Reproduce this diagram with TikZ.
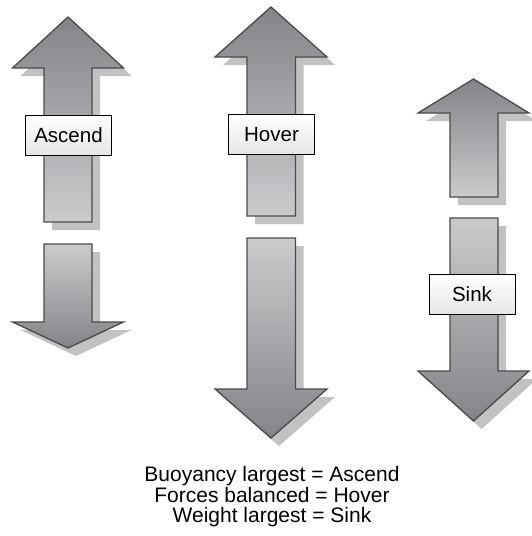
\documentclass[tikz,border=0pt]{standalone}
\usepackage{fontspec}
\setmainfont{Liberation Sans}
\usepackage{tikz}
\usetikzlibrary{positioning, shadows}
\definecolor{arrowdark}{HTML}{838487}
\definecolor{arrowlight}{HTML}{CACBCD}
\definecolor{shadowgray}{HTML}{C2C2C2}
\definecolor{edgegray}{HTML}{4A4A4A}

\begin{document}
\begin{tikzpicture}[x=1pt, y=-1pt,
        every node/.style={font=\fontsize{20.5}{20}\selectfont},
        body/.style={draw=edgegray, line width=1.3pt, line join=miter,
          drop shadow={shadow xshift=8pt, shadow yshift=-8pt,
            fill=shadowgray, opacity=1}},
        upbody/.style={body, top color=arrowdark, bottom color=arrowlight},
        downbody/.style={body, top color=arrowlight, bottom color=arrowdark},
        tag/.style={rectangle, draw=black, line width=0.8pt,
          top color=white, bottom color=black!10,
          minimum width=86pt, minimum height=40pt, inner sep=0pt}]

      \useasboundingbox (0,0) rectangle (532,536);

      % ascend
      \path[upbody] (68,17) -- (123.5,68) -- (92,68) -- (92,222)
        -- (44,222) -- (44,68) -- (12.5,68) -- cycle;
      \path[downbody] (44,244) -- (92,244) -- (92,322) -- (123.5,322)
        -- (68,348) -- (12.5,322) -- (44,322) -- cycle;
      \node[tag] (ascend) at (68.5,135) {Ascend};

      % hover
      \path[upbody] (271,7) -- (327,57) -- (295.5,57) -- (295.5,216)
        -- (247,216) -- (247,57) -- (215,57) -- cycle;
      \path[downbody] (247,238) -- (295.5,238) -- (295.5,389) -- (327,389)
        -- (271,438) -- (215,389) -- (247,389) -- cycle;
      \node[tag] (hover) at (271.5,134.5) {Hover};

      % sink
      \path[upbody] (473.5,79) -- (529,113) -- (498,113) -- (498,197)
        -- (450,197) -- (450,113) -- (418,113) -- cycle;
      \path[downbody] (450,218) -- (498,218) -- (498,371) -- (529,371)
        -- (473.5,421) -- (418,371) -- (450,371) -- cycle;
      \node[tag] (sink) at (472,294) {Sink};

      \node[align=center, font=\fontsize{21}{20.5}\selectfont] (legend) at (272,497)
        {Buoyancy largest = Ascend\\Forces balanced = Hover\\Weight largest = Sink};
    \end{tikzpicture}
\end{document}
